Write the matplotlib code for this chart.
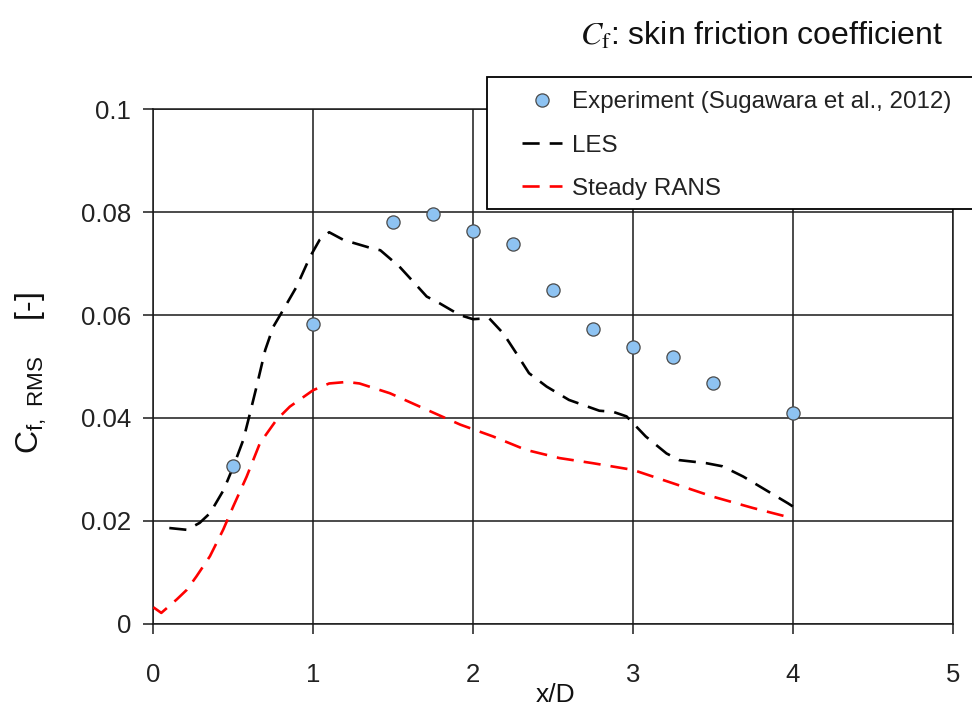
import matplotlib
matplotlib.use("Agg")
import matplotlib.pyplot as plt
from matplotlib.patches import Rectangle

plt.rcParams['font.family'] = ['Liberation Sans', 'DejaVu Sans']

# ---- data ----
exp_x = [0.5, 1.0, 1.5, 1.75, 2.0, 2.25, 2.5, 2.75, 3.0, 3.25, 3.5, 4.0]
exp_y = [0.0306, 0.0583, 0.0780, 0.0797, 0.0764, 0.0739, 0.0649, 0.0573, 0.0537, 0.0519, 0.0467, 0.0410]

les_x = [0.10, 0.21, 0.29, 0.355, 0.44, 0.50, 0.5625, 0.60, 0.646, 0.70, 0.75, 0.8125,
         0.896, 0.98, 1.04, 1.10, 1.19, 1.375, 1.42, 1.54, 1.646, 1.71, 1.79, 1.917,
         2.0, 2.10, 2.19, 2.27, 2.35, 2.46, 2.60, 2.79, 2.875, 2.96, 3.08, 3.21, 3.29,
         3.46, 3.56, 3.69, 3.83, 3.97, 4.0]
les_y = [0.0186, 0.01825, 0.0196, 0.0215, 0.0260, 0.0305, 0.0357, 0.0403, 0.0461, 0.0532,
         0.0577, 0.0610, 0.0655, 0.0713, 0.0746, 0.0761, 0.0746, 0.0729, 0.0726, 0.0694,
         0.0658, 0.0636, 0.0623, 0.0600, 0.0592, 0.0594, 0.0564, 0.0526, 0.0487, 0.0461,
         0.0435, 0.0414, 0.0412, 0.0403, 0.0364, 0.0331, 0.0318, 0.0312, 0.0306, 0.0286,
         0.0260, 0.0234, 0.0228]

rans_x = [0.0, 0.05, 0.146, 0.21, 0.27, 0.354, 0.4375, 0.50, 0.584, 0.667, 0.77, 0.854,
          1.0, 1.10, 1.21, 1.29, 1.48, 1.71, 1.92, 2.125, 2.33, 2.54, 2.75, 3.0, 3.25,
          3.5, 3.75, 4.0]
rans_y = [0.0032, 0.0021, 0.0047, 0.0066, 0.0092, 0.0131, 0.0183, 0.0228, 0.0286, 0.0351,
          0.0396, 0.0422, 0.0454, 0.0467, 0.0470, 0.0467, 0.0448, 0.0416, 0.0387, 0.0364,
          0.0338, 0.0322, 0.0312, 0.0299, 0.0273, 0.0247, 0.0225, 0.0205]

x_ticks = [0, 1, 2, 3, 4, 5]
y_ticks = [0, 0.02, 0.04, 0.06, 0.08, 0.1]
y_ticklabels = ['0', '0.02', '0.04', '0.06', '0.08', '0.1']

labels = ['Experiment (Sugawara et al., 2012)', 'LES', 'Steady RANS']

W, H = 972, 711
fig = plt.figure(figsize=(W / 100, H / 100), dpi=100)
ax = fig.add_axes([153.3 / W, 1 - 623.7 / H, (952.7 - 153.3) / W, (623.7 - 109.3) / H])

gc = '#1a1a1a'
ax.set_xlim(0, 5)
ax.set_ylim(0, 0.1)
ax.set_xticks(x_ticks)
ax.set_yticks(y_ticks)
ax.set_yticklabels(y_ticklabels)
ax.grid(True, color=gc, linewidth=1.1)
ax.set_axisbelow(True)
for s in ax.spines.values():
    s.set_color(gc)
    s.set_linewidth(1.1)
ax.tick_params(direction='out', length=7, width=1.1, color=gc, labelsize=18.5,
               labelcolor='#222222')
ax.tick_params(axis='x', pad=21)
ax.tick_params(axis='y', pad=9)

lw = 1.9
l_les, = ax.plot(les_x, les_y, color='black', lw=lw, dashes=(6.5, 3.8), zorder=3)
l_rans, = ax.plot(rans_x, rans_y, color='#ff0000', lw=lw, dashes=(6.5, 3.8), zorder=3)
l_exp, = ax.plot(exp_x, exp_y, ls='none', marker='o', ms=9.5, mfc='#8ec3f2',
                 mec='#4a4a4a', mew=0.9, zorder=4)

# legend frame
fig.add_artist(Rectangle((487 / W, 1 - 209 / H), (990 - 487) / W, (209 - 77) / H,
                         transform=fig.transFigure, facecolor='white', edgecolor='black',
                         linewidth=1.3, clip_on=False, zorder=5))
leg = fig.legend([l_exp, l_les, l_rans], labels, loc='center left',
                 bbox_to_anchor=(522 / W, 1 - 145.5 / H), bbox_transform=fig.transFigure,
                 frameon=False, fontsize=17.4, handlelength=1.65, handletextpad=0.42,
                 labelspacing=0.88, borderpad=0, borderaxespad=0, numpoints=1)
leg.set_zorder(6)
for t in leg.get_texts():
    t.set_color('#222222')

# title
fig.text(943 / W, 1 - 36 / H, r'$C_{\mathrm{f}}$: skin friction coefficient',
         ha='right', va='center', fontsize=23, color='#111111', math_fontfamily='stix')

# axis labels
fig.text(556 / W, 1 - 695 / H, 'x/D', ha='center', va='center', fontsize=19,
         color='#111111')
fig.text(31 / W, 1 - 373 / H, r'$\mathregular{C_{f,\ RMS}}$    [-]', rotation=90,
         ha='center', va='center', fontsize=23, color='#111111')

fig.savefig('out.png', dpi=100)
